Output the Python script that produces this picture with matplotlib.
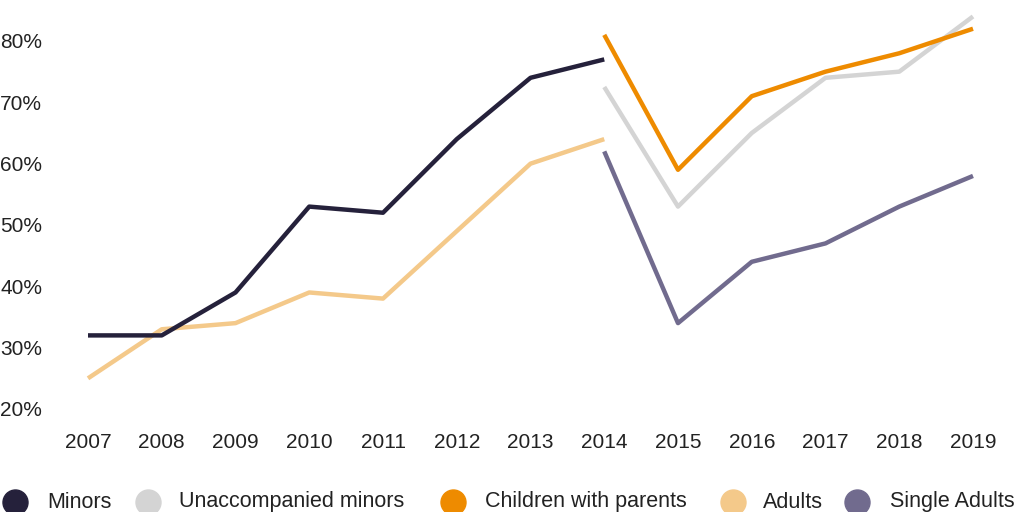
import matplotlib
matplotlib.use("Agg")
import matplotlib.pyplot as plt
from matplotlib.lines import Line2D

years_a = [2007, 2008, 2009, 2010, 2011, 2012, 2013, 2014]
years_b = [2014, 2015, 2016, 2017, 2018, 2019]
minors = [32, 32, 39, 53, 52, 64, 74, 77]
adults = [25, 33, 34, 39, 38, 49, 60, 64]
unaccompanied = [72.5, 53, 65, 74, 75, 84]
children_parents = [81, 59, 71, 75, 78, 82]
single_adults = [62, 34, 44, 47, 53, 58]
xticks = list(range(2007, 2020))
yticks = [20, 30, 40, 50, 60, 70, 80]

c_minors = "#25213b"
c_unacc = "#d4d4d4"
c_child = "#ee8b00"
c_adults = "#f4c98a"
c_single = "#716b8e"

plt.rcParams['font.family'] = ['Liberation Sans', 'DejaVu Sans']

fig = plt.figure(figsize=(10.24, 5.12), dpi=100)
ax = fig.add_axes([88/1024, 103/512, (973-88)/1024, (409-41)/512])

lw = 3.2
ax.plot(years_a, adults, color=c_adults, lw=lw, clip_on=False, solid_capstyle='butt')
ax.plot(years_a, minors, color=c_minors, lw=lw, clip_on=False, solid_capstyle='butt')
ax.plot(years_b, unaccompanied, color=c_unacc, lw=lw, clip_on=False, solid_capstyle='butt')
ax.plot(years_b, single_adults, color=c_single, lw=lw, clip_on=False, solid_capstyle='butt')
ax.plot(years_b, children_parents, color=c_child, lw=lw, clip_on=False, solid_capstyle='butt')

ax.set_xlim(2007, 2019)
ax.set_ylim(20, 80)
ax.set_xticks(xticks)
ax.set_xticklabels([str(y) for y in xticks])
ax.set_yticks(yticks)
ax.set_yticklabels([f"{v}%" for v in yticks])
for s in ax.spines.values():
    s.set_visible(False)
ax.tick_params(axis='both', length=0, labelsize=15, colors="#222222")
ax.tick_params(axis='x', pad=17)
ax.tick_params(axis='y', pad=33)

labels = ["Minors", "Unaccompanied minors", "Children with parents", "Adults", "Single Adults"]
colors = [c_minors, c_unacc, c_child, c_adults, c_single]
circle_x = [15, 148, 453, 733, 857]
text_x = [47, 179, 485, 763, 890]
ly = 10 / 512
for lab, c, cx, tx in zip(labels, colors, circle_x, text_x):
    fig.add_artist(Line2D([cx / 1024], [ly], marker='o', linestyle='none', markersize=18,
                          markerfacecolor=c, markeredgecolor=c, transform=fig.transFigure))
    fig.text(tx / 1024, ly, lab, fontsize=15.5, color="#222222", ha='left', va='center')

fig.savefig("out.png", dpi=100)
